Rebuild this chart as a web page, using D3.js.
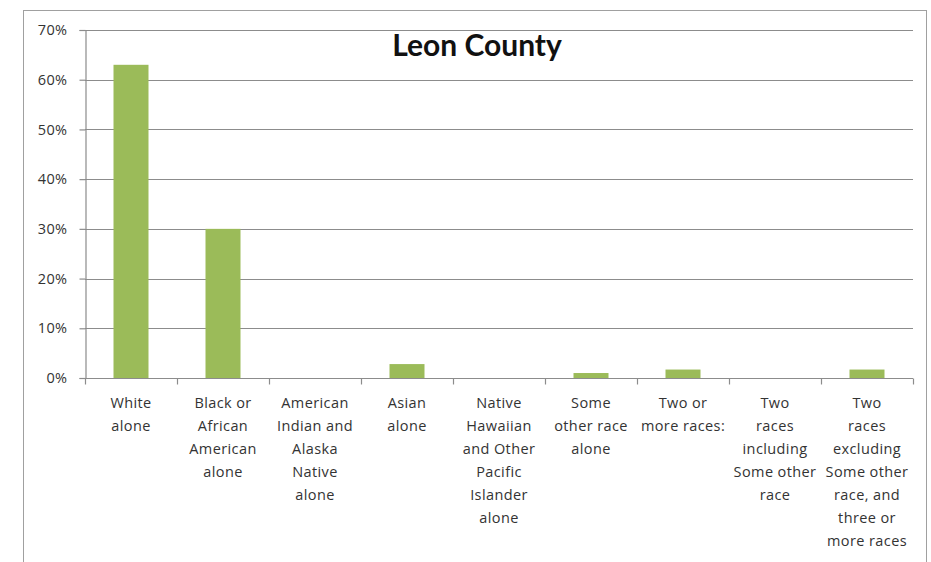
<!DOCTYPE html>
<html>
<head>
<meta charset="utf-8">
<script src="https://cdn.jsdelivr.net/npm/d3@7"></script>
<style>
  body { margin: 0; background: #fff; }
  svg { display: block; }
</style>
</head>
<body>
<svg id="chart" width="931" height="562"></svg>
<script>
// race categories, each already split into the lines shown under the axis
var categories = [
  ["White", "alone"],
  ["Black or", "African", "American", "alone"],
  ["American", "Indian and", "Alaska", "Native", "alone"],
  ["Asian", "alone"],
  ["Native", "Hawaiian", "and Other", "Pacific", "Islander", "alone"],
  ["Some", "other race", "alone"],
  ["Two or", "more races:"],
  ["Two", "races", "including", "Some other", "race"],
  ["Two", "races", "excluding", "Some other", "race, and", "three or", "more races"]
];
var shares = [0.63, 0.30, 0, 0.028, 0, 0.01, 0.017, 0, 0.017];
var yTicks = [0, 0.1, 0.2, 0.3, 0.4, 0.5, 0.6, 0.7];
var title = "Leon County";

var svg = d3.select("#chart");
var margin = { left: 85, right: 18, top: 30, bottom: 184 };
var W = 931, H = 562;
var font = "'Open Sans', Lato, sans-serif";

// chart frame
svg.append("rect")
  .attr("x", 23.5).attr("y", 10.5)
  .attr("width", 903).attr("height", 600)
  .attr("fill", "#fff").attr("stroke", "#a0a0a0").attr("stroke-width", 1);

var keys = categories.map(function(d, i) { return i; });
var x = d3.scaleBand().domain(keys).range([margin.left, W - margin.right]).paddingInner(0).paddingOuter(0);
var y = d3.scaleLinear().domain([0, 0.7]).range([H - margin.bottom, margin.top]);

// gridlines
svg.append("g")
  .selectAll("line").data(yTicks.slice(1)).enter().append("line")
  .attr("x1", margin.left).attr("x2", W - margin.right)
  .attr("y1", function(d) { return Math.round(y(d)) + 0.5; })
  .attr("y2", function(d) { return Math.round(y(d)) + 0.5; })
  .attr("stroke", "#8c8c8c").attr("stroke-width", 1.2);

// y axis
var yAxis = svg.append("g")
  .attr("transform", "translate(" + (margin.left + 0.5) + ",0)")
  .call(d3.axisLeft(y).tickValues(yTicks).tickSize(6).tickPadding(12).tickFormat(d3.format(".0%")));
yAxis.selectAll("path, line").attr("stroke", "#8c8c8c").attr("stroke-width", 1.2);
yAxis.selectAll("text")
  .attr("font-family", font)
  .attr("font-size", 14.5).attr("letter-spacing", 0.4).attr("fill", "#333");

// bars
var barW = 35;
svg.append("g")
  .selectAll("rect").data(shares).enter().append("rect")
  .attr("x", function(d, i) { return x(i) + x.bandwidth() / 2 - barW / 2; })
  .attr("y", function(d) { return y(d); })
  .attr("width", barW)
  .attr("height", function(d) { return y(0) - y(d); })
  .attr("fill", "#9bbb59");

// x axis
var xAxis = svg.append("g")
  .attr("transform", "translate(0," + (Math.round(y(0)) + 0.5) + ")");
xAxis.append("line")
  .attr("x1", margin.left).attr("x2", W - margin.right)
  .attr("stroke", "#8c8c8c").attr("stroke-width", 1.2);
var bounds = keys.map(function(k) { return x(k); }).concat([W - margin.right]);
xAxis.selectAll("line.tick").data(bounds).enter().append("line")
  .attr("class", "tick")
  .attr("x1", function(d) { return Math.round(d) + 0.5; })
  .attr("x2", function(d) { return Math.round(d) + 0.5; })
  .attr("y1", 0).attr("y2", 6)
  .attr("stroke", "#8c8c8c").attr("stroke-width", 1.2);

var lbl = svg.append("g")
  .selectAll("text").data(categories).enter().append("text")
  .attr("text-anchor", "middle")
  .attr("font-family", font)
  .attr("font-size", 14.5).attr("letter-spacing", 0.4).attr("fill", "#333")
  .attr("transform", function(d, i) { return "translate(" + (x(i) + x.bandwidth() / 2) + "," + (y(0) + 30) + ")"; });
lbl.selectAll("tspan").data(function(d) { return d; }).enter().append("tspan")
  .attr("x", 0)
  .attr("y", function(d, j) { return j * 23; })
  .text(function(d) { return d; });

// title
svg.append("text")
  .attr("x", 477).attr("y", 56)
  .attr("text-anchor", "middle")
  .attr("font-family", "Lato, 'Open Sans', sans-serif")
  .attr("font-weight", "bold").attr("font-size", 30)
  .attr("fill", "#111")
  .text(title);
</script>
</body>
</html>
